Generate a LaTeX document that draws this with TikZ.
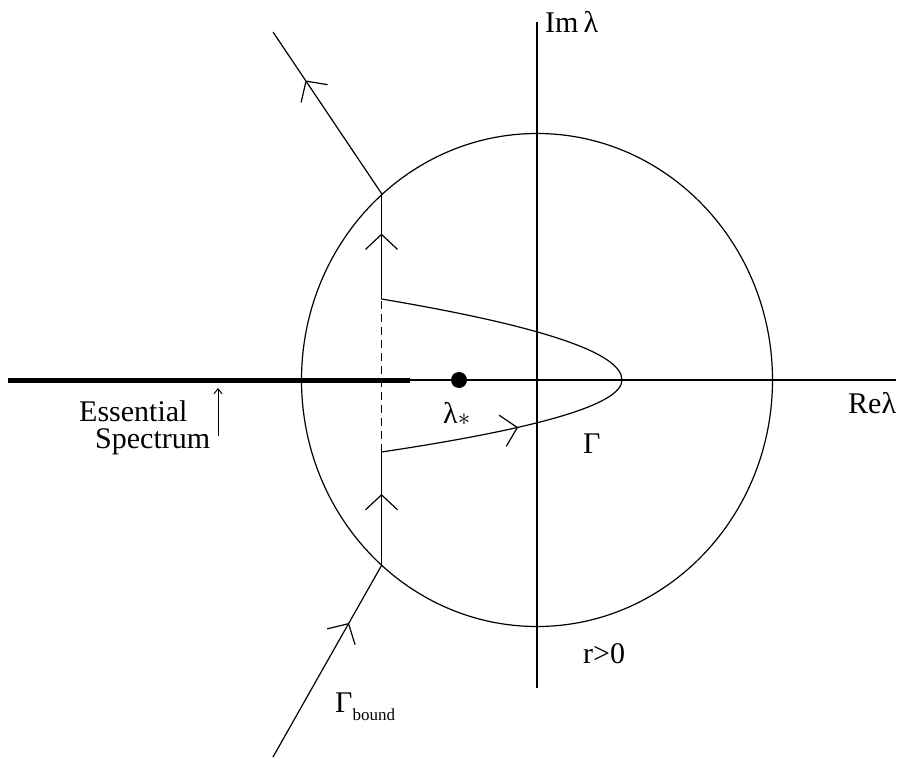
\documentclass[tikz,border=0pt]{standalone}
\usepackage{fontspec}
\setmainfont{Liberation Serif}
\usetikzlibrary{arrows.meta,decorations.markings}
\tikzset{
  thin line/.style={line width=1.2pt},
  midarrow/.style={postaction={decorate},decoration={markings,mark=at position #1 with {\arrow{Straight Barb[length=15pt,width=32pt,line width=1.2pt]}}}},
  lbl/.style={inner sep=0pt,font=\fontsize{30}{36}\selectfont},
}
\begin{document}
\begin{tikzpicture}[x=1pt,y=-1pt]
\useasboundingbox (0,0) rectangle (899,759);
% coordinates
\coordinate (origin) at (537,380);
\coordinate (xleft) at (8,380);
\coordinate (xright) at (896,380);
\coordinate (ytop) at (537,22);
\coordinate (ybot) at (537,688);
\coordinate (essend) at (410,380);
\coordinate (cuttop) at (381.5,193.5);
\coordinate (cutbot) at (381.5,565.5);
\coordinate (ptop) at (381.5,299);
\coordinate (pbot) at (381.5,452);
\coordinate (vertex) at (622,380);
\coordinate (raytop) at (273,32);
\coordinate (raybot) at (273,757);
\coordinate (ptrfoot) at (218,436);
\coordinate (ptrhead) at (218,388);
% axes
\draw[thin line] (xleft) -- (xright);
\draw[thin line] (ybot) -- (ytop);
% circle
\draw[thin line] (origin) ellipse [x radius=235.5, y radius=246.5];
% essential spectrum
\draw[line width=5pt] (xleft) -- (essend);
% eigenvalue
\fill (459,380) circle [radius=8];
% contour
\draw[thin line, midarrow=0.70] (raybot) -- (cutbot);
\draw[thin line, midarrow=0.63] (cutbot) -- (pbot);
\draw[thin line, dash pattern=on 8pt off 5pt] (pbot) -- (ptop);
\draw[thin line, midarrow=0.54] (pbot) .. controls (541.7,428) and (622,404) .. (vertex);
\draw[thin line] (vertex) .. controls (622,353) and (541.7,326) .. (ptop);
\draw[thin line, midarrow=0.62] (ptop) -- (cuttop);
\draw[thin line, midarrow=0.70] (cuttop) -- (raytop);
% pointer
\draw[line width=1pt, -{Straight Barb[length=5pt,width=8pt,line width=1pt]}] (ptrfoot) -- (ptrhead);
% labels
\node[lbl,anchor=base west] (imlab) at (545,33) {Im\,λ};
\node[lbl,anchor=base west] (relab) at (848,413) {Reλ};
\node[lbl,anchor=base west] (lstar) at (443,423) {λ\raisebox{-2pt}{$\ast$}};
\node[lbl,anchor=base west] (gam) at (583,453) {Γ};
\node[lbl,anchor=base west] (rlab) at (583,663) {r>0};
\node[lbl,anchor=base west] (gbound) at (335,712) {Γ\raisebox{-8pt}{\fontsize{17}{20}\selectfont bound}};
\node[lbl,anchor=base west] (ess1) at (79,421) {Essential};
\node[lbl,anchor=base west] (ess2) at (95,448) {Spectrum};
\end{tikzpicture}
\end{document}
